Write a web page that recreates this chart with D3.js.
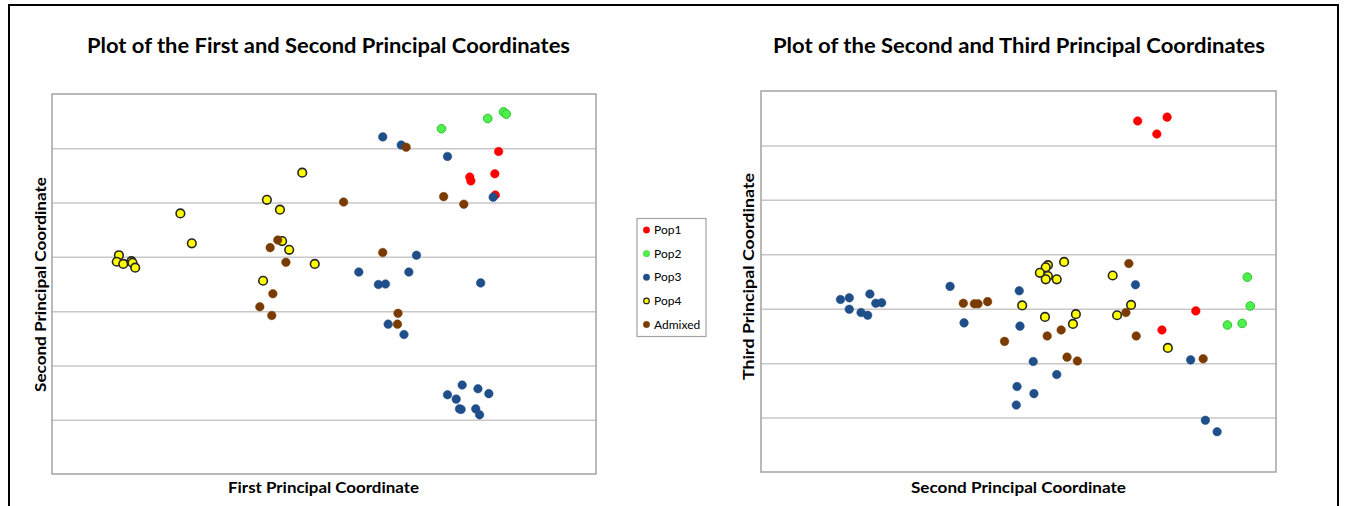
<!DOCTYPE html>
<html>
<head>
<meta charset="utf-8">
<script src="https://cdn.jsdelivr.net/npm/d3@7"></script>
<style>
  html, body { margin: 0; padding: 0; background: #fff; }
  svg { display: block; }
  text { font-family: Lato, "Open Sans", "Liberation Sans", sans-serif; fill: #000; }
</style>
</head>
<body>
<svg id="chart" width="1345" height="506"></svg>
<script>
// ---------- DATA ----------
const populations = ["Pop1", "Pop2", "Pop3", "Pop4", "Admixed"];

// Plot 1: [First PC, Second PC]
const pop1_pc12 = [[0.321,0.194],[0.268,0.147],[0.270,0.140],[0.314,0.153],[0.315,0.114]];
const pop2_pc12 = [[0.216,0.236],[0.301,0.255],[0.330,0.267],[0.335,0.263]];
const pop3_pc12 = [[0.108,0.221],[0.142,0.206],[0.227,0.185],[0.311,0.110],[0.170,0.003],
  [0.064,-0.028],[0.156,-0.028],[0.100,-0.051],[0.113,-0.050],[0.288,-0.048],[0.118,-0.124],
  [0.147,-0.143],[0.254,-0.236],[0.283,-0.243],[0.303,-0.252],[0.227,-0.254],[0.243,-0.262],
  [0.249,-0.280],[0.252,-0.281],[0.279,-0.280],[0.286,-0.291]];
const pop4_pc12 = [[-0.377,0.003],[-0.381,-0.009],[-0.369,-0.013],[-0.354,-0.008],[-0.352,-0.011],
  [-0.347,-0.020],[-0.264,0.080],[-0.243,0.025],[-0.105,0.105],[-0.081,0.087],[-0.040,0.155],
  [-0.077,0.029],[-0.064,0.013],[-0.017,-0.013],[-0.112,-0.044]];
const admixed_pc12 = [[-0.085,0.031],[-0.099,0.017],[-0.070,-0.010],[-0.094,-0.068],[-0.118,-0.092],
  [-0.096,-0.108],[0.036,0.101],[0.108,0.008],[0.151,0.202],[0.220,0.111],[0.257,0.097],
  [0.136,-0.104],[0.135,-0.124]];

// Plot 2: [Second PC, Third PC]
const pop1_pc23 = [[0.112,0.345],[0.152,0.352],[0.138,0.321],[0.191,-0.004],[0.145,-0.039]];
const pop2_pc23 = [[0.261,0.058],[0.265,0.005],[0.234,-0.030],[0.254,-0.027]];
const pop3_pc23 = [[-0.292,0.017],[-0.280,0.020],[-0.280,-0.001],[-0.252,0.027],[-0.264,-0.007],
  [-0.255,-0.012],[-0.244,0.010],[-0.236,0.011],[-0.143,0.041],[-0.124,-0.026],[-0.049,0.033],
  [-0.048,-0.032],[-0.030,-0.097],[0.002,-0.121],[-0.052,-0.143],[-0.029,-0.156],[-0.053,-0.177],
  [0.109,0.044],[0.184,-0.094],[0.204,-0.205],[0.220,-0.226]];
const pop4_pc23 = [[-0.045,0.006],[-0.010,0.080],[-0.013,0.076],[-0.021,0.066],[-0.010,0.060],
  [-0.013,0.054],[0.002,0.054],[0.012,0.086],[-0.014,-0.015],[0.028,-0.010],[0.024,-0.028],
  [0.078,0.061],[0.103,0.007],[0.084,-0.012],[0.153,-0.072]];
const admixed_pc23 = [[-0.125,0.010],[-0.110,0.009],[-0.105,0.009],[-0.092,0.013],[-0.069,-0.060],
  [-0.011,-0.050],[0.008,-0.039],[0.016,-0.089],[0.030,-0.096],[0.100,0.083],[0.096,-0.007],
  [0.110,-0.050],[0.201,-0.092]];

// axis domains and gridline ticks (no tick labels shown)
const p1xDomain = [-0.5, 0.5];
const p1yDomain = [-0.4, 0.3];
const p1yTicks = [-0.3, -0.2, -0.1, 0, 0.1, 0.2];
const p2xDomain = [-0.4, 0.3];
const p2yDomain = [-0.3, 0.4];
const p2yTicks = [-0.2, -0.1, 0, 0.1, 0.2, 0.3];

// ---------- STYLE ----------
const styles = {
  Pop1:    { fill: "#ff0000", stroke: "#ff0000", sw: 0.5 },
  Pop2:    { fill: "#4df04d", stroke: "#2ec42e", sw: 1 },
  Pop3:    { fill: "#1f4e88", stroke: "#1f4e88", sw: 0.5 },
  Pop4:    { fill: "#ffff00", stroke: "#262626", sw: 1.6 },
  Admixed: { fill: "#7a3b00", stroke: "#7a3b00", sw: 0.5 }
};

const svg = d3.select("#chart");

// outer border
svg.append("path")
  .attr("d", "M9,506 L9,5 L1338,5 L1338,506")
  .attr("fill", "none").attr("stroke", "#000").attr("stroke-width", 2);

function drawPlot(cfg) {
  const x = d3.scaleLinear().domain(cfg.xDomain).range([cfg.left, cfg.right]);
  const y = d3.scaleLinear().domain(cfg.yDomain).range([cfg.bottom, cfg.top]);
  const w = cfg.right - cfg.left, h = cfg.bottom - cfg.top;
  const g = svg.append("g");

  // gridlines via axis
  const grid = g.append("g")
    .attr("transform", `translate(${cfg.left},0)`)
    .call(d3.axisLeft(y).tickValues(cfg.yTicks).tickSize(-w).tickFormat(""));
  grid.select(".domain").remove();
  grid.selectAll(".tick line").attr("stroke", "#c8c8c8").attr("stroke-width", 1.5);

  // frame
  g.append("rect")
    .attr("x", cfg.left).attr("y", cfg.top).attr("width", w).attr("height", h)
    .attr("fill", "none").attr("stroke", "#a3a3a3").attr("stroke-width", 1.5);

  // points
  cfg.series.forEach((s, i) => {
    const st = styles[populations[i]];
    g.append("g").selectAll("circle").data(s).join("circle")
      .attr("cx", d => x(d[0])).attr("cy", d => y(d[1]))
      .attr("r", 4.3)
      .attr("fill", st.fill).attr("stroke", st.stroke).attr("stroke-width", st.sw);
  });

  // title
  g.append("text")
    .attr("x", cfg.titleX).attr("y", 53)
    .attr("text-anchor", "middle")
    .attr("font-size", 20).attr("font-weight", "bold")
    .attr("textLength", cfg.titleLen).attr("lengthAdjust", "spacingAndGlyphs")
    .text(cfg.title);

  // x label
  g.append("text")
    .attr("x", cfg.xLabelX).attr("y", 493)
    .attr("text-anchor", "middle")
    .attr("font-size", 14.5).attr("font-weight", "bold")
    .attr("textLength", cfg.xLabelLen).attr("lengthAdjust", "spacingAndGlyphs")
    .text(cfg.xLabel);

  // y label
  g.append("text")
    .attr("transform", `translate(${cfg.yLabelX},${cfg.yLabelY}) rotate(-90)`)
    .attr("text-anchor", "middle")
    .attr("font-size", 14.5).attr("font-weight", "bold")
    .attr("textLength", cfg.yLabelLen).attr("lengthAdjust", "spacingAndGlyphs")
    .text(cfg.yLabel);
}

drawPlot({
  left: 52, right: 596, top: 94, bottom: 474,
  xDomain: p1xDomain, yDomain: p1yDomain, yTicks: p1yTicks,
  series: [pop1_pc12, pop2_pc12, pop3_pc12, pop4_pc12, admixed_pc12],
  title: "Plot of the First and Second Principal Coordinates", titleX: 328.5, titleLen: 483,
  xLabel: "First Principal Coordinate", xLabelX: 323.5, xLabelLen: 191,
  yLabel: "Second Principal Coordinate", yLabelX: 46, yLabelY: 284.5, yLabelLen: 215
});

drawPlot({
  left: 761, right: 1276, top: 91, bottom: 472,
  xDomain: p2xDomain, yDomain: p2yDomain, yTicks: p2yTicks,
  series: [pop1_pc23, pop2_pc23, pop3_pc23, pop4_pc23, admixed_pc23],
  title: "Plot of the Second and Third Principal Coordinates", titleX: 1019, titleLen: 492,
  xLabel: "Second Principal Coordinate", xLabelX: 1018.5, xLabelLen: 215,
  yLabel: "Third Principal Coordinate", yLabelX: 754, yLabelY: 276.5, yLabelLen: 207
});

// legend
const lg = svg.append("g");
lg.append("rect")
  .attr("x", 637).attr("y", 218.5).attr("width", 69).attr("height", 118)
  .attr("fill", "#fff").attr("stroke", "#a3a3a3").attr("stroke-width", 1.2);
const legY = d3.scalePoint().domain(populations).range([230, 324.5]);
populations.forEach(p => {
  const st = styles[p];
  lg.append("circle")
    .attr("cx", 646.5).attr("cy", legY(p)).attr("r", p === "Pop4" ? 2.8 : 3.2)
    .attr("fill", st.fill).attr("stroke", st.stroke).attr("stroke-width", p === "Pop4" ? 1.2 : 0.5);
  lg.append("text")
    .attr("x", 654).attr("y", legY(p) + 4.2)
    .attr("font-size", 12)
    .text(p);
});
</script>
</body>
</html>
